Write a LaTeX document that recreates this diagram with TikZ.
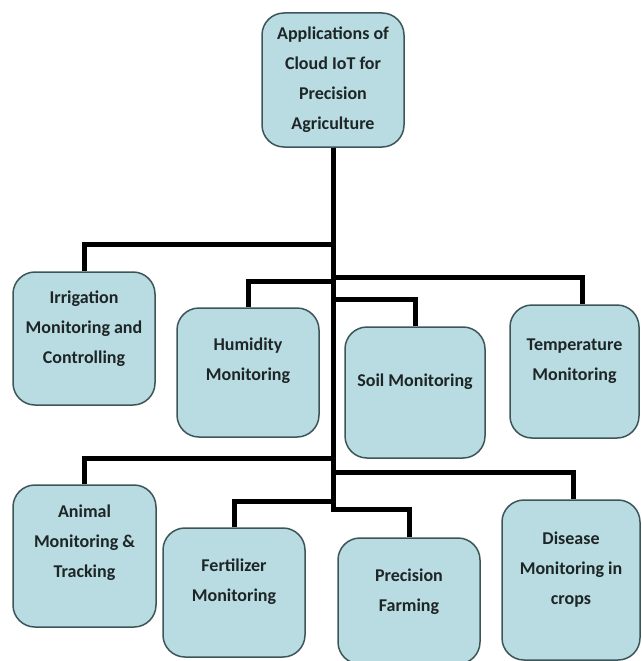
\documentclass[tikz,border=0pt]{standalone}
\usepackage{fontspec}
\setmainfont{Carlito}
\definecolor{boxfill}{HTML}{B8DCE2}
\definecolor{boxline}{HTML}{3E5558}
\definecolor{txt}{HTML}{1E2526}
\tikzset{
  box/.style={draw=boxline, line width=1.5pt, fill=boxfill, rounded corners=22pt,
    inner sep=0pt, anchor=center},
  lbl/.style={align=center, text=txt, font=\fontsize{18}{30}\selectfont\bfseries, inner sep=0pt},
  conn/.style={line width=5pt, black, line cap=butt, line join=miter}
}
\begin{document}
\begin{tikzpicture}[x=1pt,y=-1pt]
\useasboundingbox (0,0) rectangle (641,661);
\clip (0,0) rectangle (641,661);
\fill[white] (0,0) rectangle (641,661);
% boxes
\node[box, minimum width=142pt, minimum height=134pt] (root) at (333,80) {};
\node[box, minimum width=142pt, minimum height=133pt] (irr) at (84,338.5) {};
\node[box, minimum width=142pt, minimum height=129pt] (hum) at (248,372.5) {};
\node[box, minimum width=140pt, minimum height=131pt] (soil) at (415,392.5) {};
\node[box, minimum width=129pt, minimum height=133pt] (temp) at (574.5,371.5) {};
\node[box, minimum width=143pt, minimum height=142pt] (anim) at (84.5,556) {};
\node[box, minimum width=142pt, minimum height=129pt] (fert) at (234,592.5) {};
\node[box, minimum width=142pt, minimum height=126pt] (prec) at (409,601) {};
\node[box, minimum width=138pt, minimum height=160pt] (dis) at (571,580) {};
% connectors
\draw[conn] (root.south) |- ([yshift=27pt]irr.north) -- (irr.north);
\draw[conn] (root.south) |- ([yshift=26pt]hum.north) -- (hum.north);
\draw[conn] (root.south) |- ([xshift=7.5pt,yshift=27pt]temp.north) -- ([xshift=7.5pt]temp.north);
\draw[conn] (root.south) |- ([yshift=27pt]soil.north) -- (soil.north);
\draw[conn] (root.south) |- ([yshift=26pt]anim.north) -- (anim.north);
\draw[conn] (root.south) |- ([xshift=2.5pt,yshift=27pt]dis.north) -- ([xshift=2.5pt]dis.north);
\draw[conn] (root.south) |- ([yshift=26pt]fert.north) -- (fert.north);
\draw[conn] (root.south) |- ([yshift=28pt]prec.north) -- (prec.north);
% labels
\node[lbl] (root-t) at (root.center) {Applications of\\Cloud IoT for\\Precision\\Agriculture};
\node[lbl] (irr-t) at ([yshift=10pt]irr.center) {Irrigation\\Monitoring and\\Controlling};
\node[lbl] (hum-t) at ([yshift=12pt]hum.center) {Humidity\\Monitoring};
\node[lbl] (soil-t) at ([yshift=11pt]soil.center) {Soil Monitoring};
\node[lbl] (temp-t) at ([yshift=10pt]temp.center) {Temperature\\Monitoring};
\node[lbl] (anim-t) at ([yshift=13pt]anim.center) {Animal\\Monitoring \&\\Tracking};
\node[lbl] (fert-t) at ([yshift=11pt]fert.center) {Fertilizer\\Monitoring};
\node[lbl] (prec-t) at ([yshift=9pt]prec.center) {Precision\\Farming};
\node[lbl] (dis-t) at ([yshift=10pt]dis.center) {Disease\\Monitoring in\\crops};
\end{tikzpicture}
\end{document}
